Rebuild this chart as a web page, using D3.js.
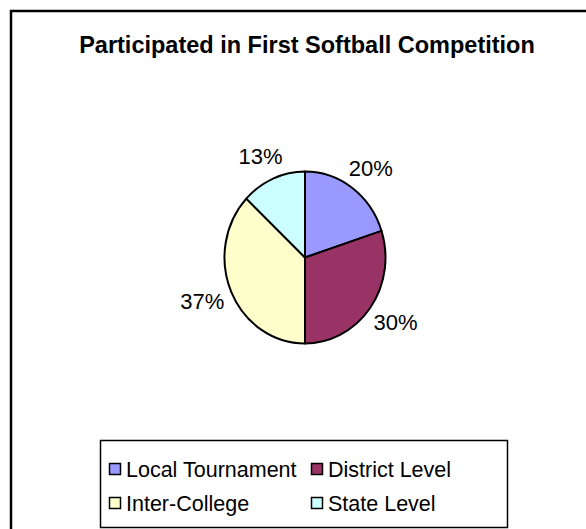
<!DOCTYPE html>
<html>
<head>
<meta charset="utf-8">
<script src="https://cdn.jsdelivr.net/npm/d3@7"></script>
<style>
  html, body { margin: 0; padding: 0; background: #fff; }
  svg { display: block; font-family: "Liberation Sans", Arial, sans-serif; }
</style>
</head>
<body>
<svg id="chart" width="586" height="529"></svg>
<script>
// Chart data
const title = "Participated in First Softball Competition";
const categories = ["Local Tournament", "District Level", "Inter-College", "State Level"];
const values = [20, 30, 37, 13];
const colors = ["#9999FF", "#993366", "#FFFFCC", "#CCFFFF"];

const svg = d3.select("#chart");

// Outer chart frame (continues past the right and bottom edges)
svg.append("path")
  .attr("d", "M11,600 L11,11 L640,11")
  .attr("fill", "none").attr("stroke", "#000").attr("stroke-width", 2.5);

// Title
svg.append("text")
  .attr("x", 307).attr("y", 53)
  .attr("text-anchor", "middle")
  .attr("font-weight", "bold").attr("font-size", 23.5)
  .attr("fill", "#000")
  .text(title);

// Pie
const cx = 305, cy = 257.5, rx = 80.5, ry = 86;
const color = d3.scaleOrdinal().domain(categories).range(colors);
const pie = d3.pie().sort(null).value(d => d.value);
const arcs = pie(categories.map((c, i) => ({ name: c, value: values[i] })));
const arc = d3.arc().innerRadius(0).outerRadius(rx);

const g = svg.append("g").attr("transform", `translate(${cx},${cy}) scale(1,${ry / rx})`);
g.selectAll("path.slice").data(arcs).join("path")
  .attr("class", "slice")
  .attr("d", arc)
  .attr("fill", d => color(d.data.name))
  .attr("stroke", "#000").attr("stroke-width", 2)
  .attr("stroke-linejoin", "round")
  .attr("vector-effect", "non-scaling-stroke");

// Percentage labels outside the pie
const total = d3.sum(values);
const labelRx = 112, labelRy = 110;
const mid = d => (d.startAngle + d.endAngle) / 2;
svg.selectAll("text.pct").data(arcs).join("text")
  .attr("class", "pct")
  .attr("x", d => cx + labelRx * Math.sin(mid(d)))
  .attr("y", d => cy - labelRy * Math.cos(mid(d)))
  .attr("dy", "0.36em")
  .attr("text-anchor", "middle")
  .attr("font-size", 22)
  .attr("fill", "#000")
  .text(d => Math.round(d.data.value / total * 100) + "%");

// Legend
const legend = svg.append("g");
legend.append("rect")
  .attr("x", 100.5).attr("y", 440.5).attr("width", 407).attr("height", 87)
  .attr("fill", "#fff").attr("stroke", "#000").attr("stroke-width", 1.5);

const colX = d3.scaleOrdinal().domain([0, 1]).range([109, 311]);
const rowY = d3.scaleOrdinal().domain([0, 1]).range([469, 503]);
const items = legend.selectAll("g.item").data(categories).join("g")
  .attr("class", "item")
  .attr("transform", (d, i) => `translate(${colX(i % 2)},${rowY(Math.floor(i / 2))})`);
items.append("rect")
  .attr("x", 0.5).attr("y", -5.5).attr("width", 11).attr("height", 11)
  .attr("fill", d => color(d)).attr("stroke", "#000").attr("stroke-width", 1.5);
items.append("text")
  .attr("x", 17).attr("y", 0).attr("dy", "0.36em")
  .attr("font-size", 21.5).attr("fill", "#000")
  .text(d => d);
</script>
</body>
</html>
